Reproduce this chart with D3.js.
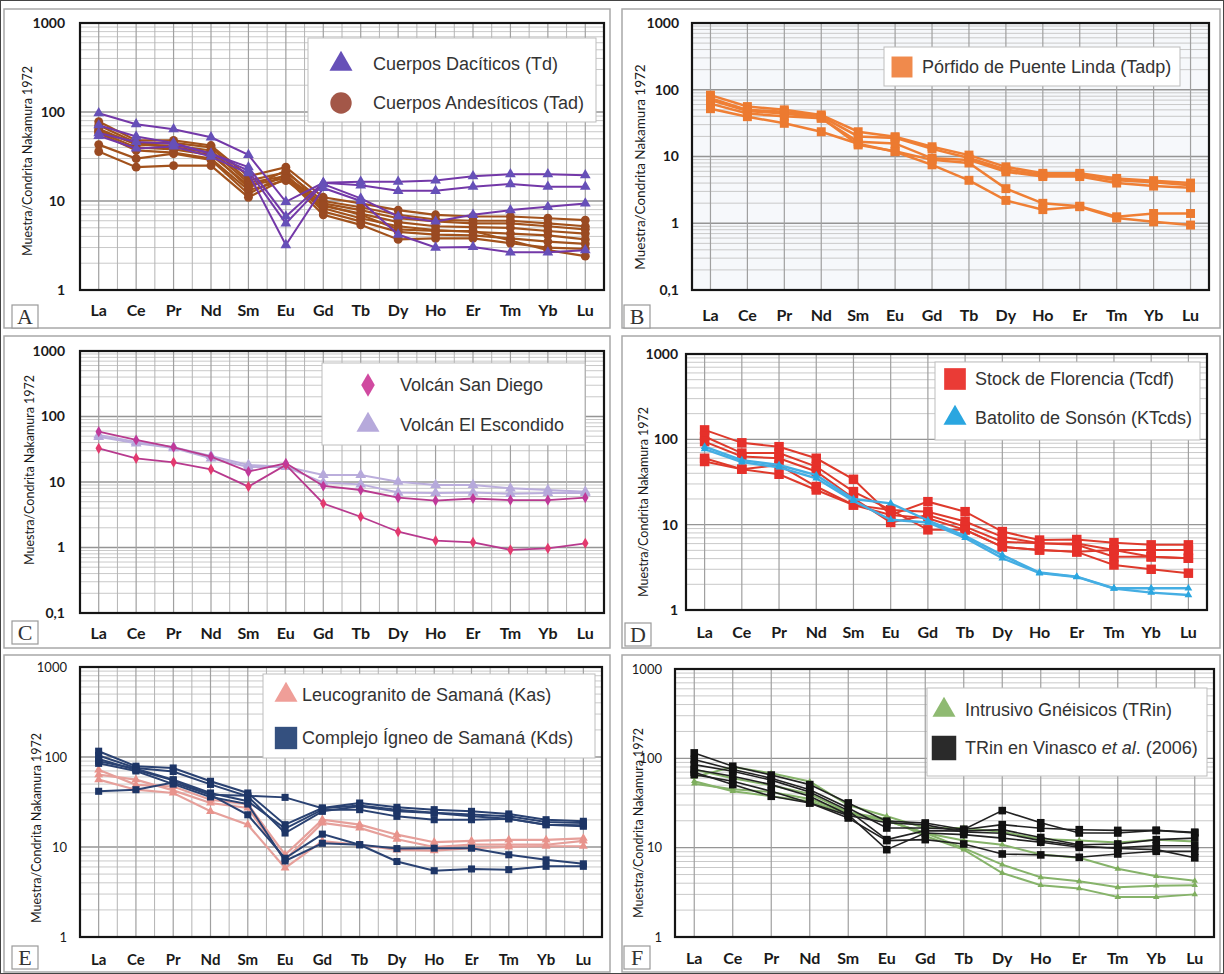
<!DOCTYPE html>
<html><head><meta charset="utf-8">
<script src="https://cdn.jsdelivr.net/npm/d3@7"></script>
<style>body{margin:0;background:#fff}</style>
</head><body><svg id="c" width="1224" height="974"></svg>
<script>
const elements = ["La","Ce","Pr","Nd","Sm","Eu","Gd","Tb","Dy","Ho","Er","Tm","Yb","Lu"];
const ticks3 = [1,10,100,1000];
const ticks4 = [0.1,1,10,100,1000];
const yTitle = "Muestra/Condrita Nakamura 1972";

// Panel A
const daciticos = [
 [97,73,64,52,33,9.8,16,16.5,16.5,17,19,20,20,19.5],
 [71,53,45,34,24,6.7,16,15,13,13,14.5,15.5,14.5,14.5],
 [58,46,44,34,22,5.6,15.5,10.7,6.7,5.9,7,7.9,8.6,9.4],
 [54,39,41,31.5,20.5,3.2,14,10,4.2,3.0,3.05,2.65,2.65,2.8]
];
const andesiticos = [
 [78,48,48,42,19,24,11,9.4,7.9,7,6.7,6.7,6.4,6.1],
 [71,45,45,40,17,21,10,8.5,7,6.2,6,6,5.6,5.2],
 [65,43,42,37,16,19,9.4,7.9,6.4,5.9,5.6,5.6,5.2,4.8],
 [60,40,38,33,15,18,8.8,7.2,5.8,5.2,5.1,5.0,4.6,4.3],
 [58,37,35,30,13.3,17,8.3,6.4,5.2,4.7,4.5,4.3,4.1,3.7],
 [43,30,34,29,12,20,7.6,5.9,4.5,4.2,4.1,3.8,3.5,3.3],
 [36,24,25,25,11,18,7.0,5.4,3.7,3.8,3.8,3.35,3.0,2.9],
 [62,44,40,35,14,22,9,7,4.8,4.6,4.6,3.6,2.8,2.4]
];
// Panel B
const puenteLinda = [
 [83,56,50,42,23.5,19.8,14,10.5,7.0,5.6,5.6,4.7,4.35,4.0],
 [75,50,47,40,20,19,13,9.5,6.4,5.3,5.3,4.4,4.1,3.7],
 [62,44,40,37.3,16.6,15.7,9.4,8.9,5.9,5.0,5.0,4.0,3.6,3.4],
 [70,48,44,38,14.9,12,8.9,8,3.3,1.99,1.8,1.25,1.4,1.4],
 [52,39.5,31.4,23.5,15.5,11.8,7.5,4.4,2.2,1.6,1.77,1.2,1.05,0.94]
];
// Panel C
const sanDiego = [
 [32.7,23,20,15.6,8.5,18.2,4.7,2.95,1.74,1.27,1.2,0.92,0.97,1.16],
 [58.6,43.8,33.9,24.4,14.4,19.3,8.7,7.55,5.76,5.2,5.6,5.3,5.3,5.76]
];
const escondido = [
 [52,41,33.9,25,18.2,17.1,12.8,12.8,10.1,9.0,9.0,8.0,7.55,7.1],
 [49,39,33,23,17,17,9.8,9.2,6.9,6.8,6.9,6.6,6.8,6.8]
];
// Panel D
const florencia = [
 [129,91,82,60,34,13,18.6,14.2,8.3,6.6,6.7,6.15,5.8,5.8],
 [108,69,69,48,24.4,14.9,14.2,10.9,7.2,6.05,6.0,5.05,5.05,5.05],
 [94,63,60,42,20.4,10.6,13,9.5,6.3,6.05,5.8,4.2,4.2,4.04],
 [60,44.6,50,28,17,13,11.9,8.7,5.5,5.05,4.8,3.37,3.0,2.7],
 [55,44.6,39,25.5,17,14.9,8.7,8.7,5.5,5.05,4.8,5.05,4.2,4.04]
];
const sonson = [
 [82,57,50,38,20,17.8,11.2,7.4,4.4,2.75,2.46,1.8,1.8,1.8],
 [77,54,47,35,19,11.4,10.6,7.0,4.04,2.7,2.44,1.78,1.6,1.5]
];
// Panel E
const leucogranito = [
 [72,49,47,33.5,30,8.2,20.1,17.7,13.7,11.3,11.7,12,12,12.5],
 [63.6,56,42.6,30.8,27.1,7.2,18.5,16.3,12.2,10,10.6,10.6,10.6,11.7],
 [56,43.3,39.8,24.9,17.7,5.85,11.6,10.6,9.3,9.1,9.7,10,10.2,10.2]
];
const complejoSamana = [
 [116,79,75.5,53.7,39.8,17.7,27.1,30.8,27.6,26,24.9,23.3,20.1,19.3],
 [104,75.5,69,49.6,36.6,14.3,24.9,28.3,24.9,23.9,21.9,20.6,17.7,17],
 [89.6,74,56,39.8,32.2,16,26,26,21.9,20.1,20.1,20.6,17.7,17.5],
 [41.6,43.3,52,38,37,35.6,27,29,26,24,23,22,19,18.5],
 [95,72,55,38,22.8,7.5,13.9,10.6,6.9,5.45,5.7,5.6,6.1,6.1],
 [85,70,50,36,30,7.0,11,10.6,9.6,9.7,9.7,8.2,7.2,6.5]
];
// Panel F
const gneisicos = [
 [62,80,68,55,30,22.5,16.6,16.6,15,12.5,12,11.4,12.3,11.7],
 [75,60,50,40,25,20,14.6,12,10.8,8.4,7.7,5.8,4.8,4.25],
 [55.4,42.8,37.6,33,24,20,14.6,9.9,6.45,4.66,4.2,3.6,3.75,3.8],
 [52,45,42,35,25,21,13.5,9.5,5.2,3.8,3.5,2.8,2.8,3.0]
];
const vinasco = [
 [115,81.5,65,50.8,31.7,19.8,18.9,16,26,19,14.6,14.6,15.6,14.9],
 [97,75,60,44.6,27.8,16.6,16.6,16,18.1,16.5,15.9,15.6,15.6,14.6],
 [85,71.6,57,42,26,12.3,15.5,15.3,15.9,13,10.8,11,12.3,12.8],
 [75,63,50.8,37.6,23.4,9.5,14.6,14,12.8,11.5,10.1,10,10.5,10.5],
 [65.7,55.4,42.8,31.7,21.5,12,12.3,11,8.5,8.3,7.8,8.5,9.1,9.1],
 [70,50.8,37.6,31.7,23,19,18,15,14.5,12,10.5,9.8,9.5,7.7]
];

const svg = d3.select("#c");
svg.append("rect").attr("x",0.5).attr("y",0.5).attr("width",1223).attr("height",973)
  .attr("fill","#fff").attr("stroke","#444").attr("stroke-width",1);

const fmt = d => d < 1 ? String(d).replace(".", ",") : String(d);
const sym = {tri: d3.symbolTriangle, circ: d3.symbolCircle, sq: d3.symbolSquare, dia: d3.symbolDiamond};

function drawPanel(p) {
  const g = svg.append("g");
  g.append("rect").attr("x",p.box[0]).attr("y",p.box[1]).attr("width",p.box[2]).attr("height",p.box[3])
    .attr("fill","#fff").attr("stroke","#a8a8a8").attr("stroke-width",1.5);
  const [l,t,r,b] = p.plot;
  const x = d3.scalePoint().domain(elements).range([l,r]).padding(0.5);
  const y = d3.scaleLog().domain(p.domain).range([b,t]);
  g.append("rect").attr("x",l).attr("y",t).attr("width",r-l).attr("height",b-t).attr("fill",p.bg||"#fff");
  const minors = [];
  for (let d = p.domain[0]; d < p.domain[1]*0.99; d *= 10)
    for (let k = 2; k <= 9; k++) minors.push(d*k);
  g.append("g").selectAll("line").data(minors).join("line")
    .attr("x1",l).attr("x2",r).attr("y1",d=>y(d)).attr("y2",d=>y(d))
    .attr("stroke","#c9c9c9").attr("stroke-width",1);
  g.append("g").selectAll("line").data(p.ticks).join("line")
    .attr("x1",l).attr("x2",r).attr("y1",d=>y(d)).attr("y2",d=>y(d))
    .attr("stroke","#959595").attr("stroke-width",1.3);
  if (p.half) {
    const mids = elements.map(e => x(e) - x.step()/2).concat([x(elements[13]) + x.step()/2]);
    g.append("g").selectAll("line").data(mids).join("line")
      .attr("x1",d=>d).attr("x2",d=>d).attr("y1",t).attr("y2",b)
      .attr("stroke","#b4b4b4").attr("stroke-width",1);
  }
  g.append("g").selectAll("line").data(elements).join("line")
    .attr("x1",d=>x(d)).attr("x2",d=>x(d)).attr("y1",t).attr("y2",b)
    .attr("stroke","#a0a0a0").attr("stroke-width",1.2);
  const line = d3.line().x((d,i)=>x(elements[i])).y(d=>y(d));
  p.series.forEach(s => {
    const sg = g.append("g");
    s.data.forEach(row => {
      sg.append("path").attr("d", line(row)).attr("fill","none")
        .attr("stroke", s.line).attr("stroke-width", s.lw);
    });
    s.data.forEach((row, ri) => {
      sg.append("g").selectAll("path").data(row).join("path")
        .attr("transform",(d,i)=>`translate(${x(elements[i])},${y(d)})`)
        .attr("d", d3.symbol().type(sym[s.shape]).size(s.size))
        .attr("fill", (s.mcols && s.mcols[ri]) || s.color);
    });
  });
  g.append("rect").attr("x",l).attr("y",t).attr("width",r-l).attr("height",b-t)
    .attr("fill","none").attr("stroke","#151515").attr("stroke-width",2.2);
  g.append("g").selectAll("text").data(p.ticks).join("text")
    .attr("x", l - p.tickGap).attr("y", d=>y(d)).attr("dy","0.35em")
    .attr("text-anchor","end").attr("font-family","Lato, sans-serif")
    .attr("font-weight", p.tickWeight || 700).attr("font-size", p.tickSize || 14).attr("fill","#1a1a1a")
    .text(fmt);
  g.append("g").selectAll("text").data(elements).join("text")
    .attr("x", d=>x(d)).attr("y", p.catY).attr("dy","0.35em")
    .attr("text-anchor","middle").attr("font-family","Lato, sans-serif")
    .attr("font-weight",700).attr("font-size", p.catSize || 16).attr("fill","#1a1a1a")
    .text(d=>d);
  g.append("text").attr("transform",`translate(${p.title[0]},${p.title[1]}) rotate(-90)`)
    .attr("text-anchor","middle").attr("dy","0.35em")
    .attr("font-family","Lato, sans-serif").attr("font-size", p.titleSize || 12.5).attr("fill","#1a1a1a")
    .text(yTitle);
  const L = p.legend;
  g.append("rect").attr("x",L.box[0]).attr("y",L.box[1]).attr("width",L.box[2]).attr("height",L.box[3])
    .attr("fill","#fff").attr("stroke","#bdbdbd").attr("stroke-width",1);
  p.series.slice().sort((a,b)=>a.legendOrder-b.legendOrder).forEach((s,i) => {
    g.append("path").attr("transform",`translate(${L.mx},${L.ys[i]})`)
      .attr("d", d3.symbol().type(sym[s.shape]).size(s.lsize)).attr("fill", s.lcolor || s.color);
    const tx = g.append("text").attr("x",L.tx).attr("y",L.ys[i]).attr("dy","0.35em")
      .attr("font-family","'Liberation Sans', Arial, sans-serif").attr("font-size", L.fs || 18).attr("fill","#333");
    if (s.labelParts) {
      s.labelParts.forEach(pt => tx.append("tspan").attr("font-style", pt[1] ? "italic" : null).text(pt[0]));
    } else tx.text(s.label);
  });
  g.append("rect").attr("x",p.letter[0]).attr("y",p.letter[1]).attr("width",26).attr("height",23)
    .attr("fill","#fff").attr("stroke","#9a9a9a").attr("stroke-width",1.2);
  g.append("text").attr("x",p.letter[0]+13).attr("y",p.letter[1]+19).attr("text-anchor","middle")
    .attr("font-family","'Liberation Serif', 'DejaVu Serif', serif").attr("font-size",22).attr("fill","#333")
    .text(p.name);
}

const panels = [
 {name:"A", box:[4,9,606,319], plot:[80,23,604,290], domain:[1,1000], ticks:ticks3, half:true,
  tickGap:15, catY:310, title:[28,161], letter:[12,305],
  legend:{box:[308,38,288,84], mx:341, tx:373, ys:[64,103]},
  series:[
   {data:andesiticos, color:"#9a4a22", line:"#a2521c", lw:2.2, shape:"circ", size:62, lsize:360, lcolor:"#a35748", label:"Cuerpos Andesíticos (Tad)", legendOrder:2},
   {data:daciticos, color:"#6650b8", line:"#7338a8", lw:2, shape:"tri", size:50, lsize:230, label:"Cuerpos Dacíticos (Td)", legendOrder:1}
  ]},
 {name:"B", box:[622,9,598,319], plot:[692,23,1209,290], domain:[0.1,1000], ticks:ticks4, bg:"#f6f8fb",
  tickGap:13, catY:315, title:[640,167], titleSize:13.5, letter:[624,305],
  legend:{box:[884,47,296,39], mx:902, tx:922, ys:[67]},
  series:[
   {data:puenteLinda, color:"#ec7a30", line:"#ef7f35", lw:2.5, shape:"sq", size:80, lsize:440, lcolor:"#f08a4c", label:"Pórfido de Puente Linda (Tadp)", legendOrder:1}
  ]},
 {name:"C", box:[4,336,606,312], plot:[80,351,604,613], domain:[0.1,1000], ticks:ticks4, half:true,
  tickGap:15, catY:633, title:[30,470], letter:[12,621],
  legend:{box:[322,363,263,82], mx:368, tx:400, ys:[385,425]},
  series:[
   {data:escondido, color:"#b6a9db", line:"#bbaedc", lw:2, shape:"tri", size:50, lsize:230, label:"Volcán El Escondido", legendOrder:2},
   {data:sanDiego, color:"#d2409a", mcols:["#e33a6e","#c0399a"], line:"#b83a8e", lw:1.8, shape:"dia", size:36, lsize:160, lcolor:"#d04aa0", label:"Volcán San Diego", legendOrder:1}
  ]},
 {name:"D", box:[622,336,598,312], plot:[686,354,1207,610], domain:[1,1000], ticks:ticks3,
  tickGap:8, catY:632, title:[644,502], letter:[625,623],
  legend:{box:[935,362,265,78], mx:955, tx:975, ys:[379,418]},
  series:[
   {data:florencia, color:"#e6302a", line:"#de3a2c", lw:2, shape:"sq", size:90, lsize:470, lcolor:"#ea3b36", label:"Stock de Florencia (Tcdf)", legendOrder:1},
   {data:sonson, color:"#2aa6e0", line:"#45aee3", lw:2.4, shape:"tri", size:26, lsize:230, label:"Batolito de Sonsón (KTcds)", legendOrder:2}
  ]},
 {name:"E", box:[4,655,606,317], plot:[80,667,602,937], domain:[1,1000], ticks:ticks3, half:true,
  tickGap:13, tickWeight:400, tickSize:13, catY:960, catSize:15, title:[37,828], letter:[12,946],
  legend:{box:[263,674,332,84], mx:286, tx:302, ys:[695,738]},
  series:[
   {data:leucogranito, color:"#e8938c", line:"#e6a09b", lw:2.2, shape:"tri", size:34, lsize:230, lcolor:"#ef9e98", label:"Leucogranito de Samaná (Kas)", legendOrder:1},
   {data:complejoSamana, color:"#1d3566", line:"#2a4272", lw:2, shape:"sq", size:50, lsize:500, lcolor:"#34507f", label:"Complejo Ígneo de Samaná (Kds)", legendOrder:2}
  ]},
 {name:"F", box:[622,655,598,317], plot:[675,669,1214,937], domain:[1,1000], ticks:ticks3,
  tickGap:13, tickWeight:400, tickSize:13, catY:958, title:[639,823], letter:[624,946],
  legend:{box:[927,688,280,88], mx:944, tx:965, ys:[710,748]},
  series:[
   {data:gneisicos, color:"#7fae5e", line:"#86b36a", lw:2, shape:"tri", size:18, lsize:230, lcolor:"#8fba72", label:"Intrusivo Gnéisicos (TRin)", legendOrder:1},
   {data:vinasco, color:"#111", line:"#222", lw:1.6, shape:"sq", size:58, lsize:600, lcolor:"#2a2a2a",
    labelParts:[["TRin en Vinasco ",0],["et al",1],[". (2006)",0]], legendOrder:2}
  ]}
];
panels.forEach(drawPanel);
</script></body></html>
